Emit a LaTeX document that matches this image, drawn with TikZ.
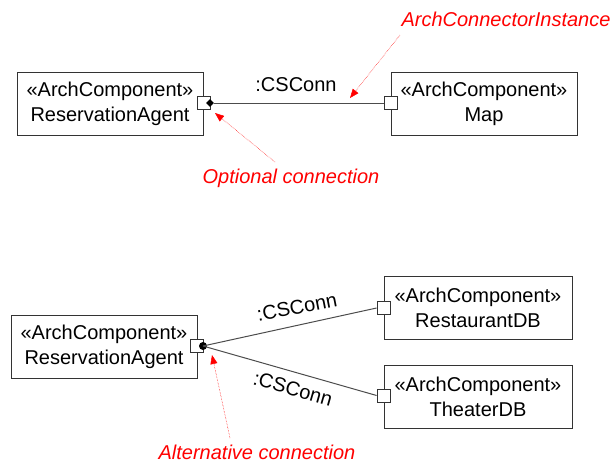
\documentclass[tikz,border=0pt]{standalone}
\usepackage{fontspec}
\setmainfont{Liberation Sans}
\usetikzlibrary{arrows.meta,shapes.geometric}

\begin{document}
\begin{tikzpicture}[x=1pt,y=-1pt,
  comp/.style={draw=black!80, line width=0.8pt, minimum width=186pt, minimum height=63pt,
    align=center, inner sep=0pt, font=\fontsize{20}{25}\selectfont},
  port/.style={draw=black!80, fill=white, line width=0.8pt, minimum size=13pt, inner sep=0pt},
  conn/.style={draw=black!70, line width=1pt},
  lbl/.style={font=\fontsize{20}{24}\selectfont, inner sep=0pt},
  note/.style={text=red, font=\fontsize{20}{24}\selectfont\itshape, inner sep=0pt},
  pointer/.style={draw=red, line width=0.5pt, densely dotted, -{Triangle[length=9pt,width=7pt]}},
]
\useasboundingbox (0,0) rectangle (616,472);

% --- optional connection ---
\node[comp] (ra1) at (110,104) {«ArchComponent»\\ReservationAgent};
\node[comp] (map) at (484,104) {«ArchComponent»\\Map};
\node[port] (p1) at (203.5,103) {};
\node[port] (p2) at (390.5,103) {};
\node[diamond, fill=black, minimum size=8pt, inner sep=0pt] (d1) at (210,103) {};
\draw[conn] (d1.east) -- (p2.west);
\node[lbl] (c1) at (296,85) {:CSConn};

\node[note] (n1) at (506,19) {ArchConnectorInstance};
\coordinate (n1s) at (400,35);
\coordinate (n1t) at (350,98);
\draw[pointer] (n1s) -- (n1t);

\node[note] (n2) at (291,178) {Optional connection};
\coordinate (n2s) at (275,162);
\coordinate (n2t) at (215,113);
\draw[pointer] (n2s) -- (n2t);

% --- alternative connection ---
\node[comp] (ra2) at (104,347) {«ArchComponent»\\ReservationAgent};
\node[comp, minimum width=188pt] (rdb) at (478,308) {«ArchComponent»\\RestaurantDB};
\node[comp, minimum width=188pt] (tdb) at (478,396.5) {«ArchComponent»\\TheaterDB};
\node[port] (p3) at (197,346) {};
\node[port] (p4) at (383.5,308) {};
\node[port] (p5) at (383.5,395.5) {};
\node[circle, fill=black, minimum size=8pt, inner sep=0pt] (d2) at (203,346) {};
\draw[conn] (d2.center) -- (p4.west);
\draw[conn] (d2.center) -- (p5.west);
\node[lbl, rotate=11] (c2) at (297,307) {:CSConn};
\node[lbl, rotate=-16] (c3) at (293,389) {:CSConn};

\node[note] (n3) at (257,452) {Alternative connection};
\coordinate (n3s) at (230,438);
\coordinate (n3t) at (212,355);
\draw[pointer] (n3s) -- (n3t);
\end{tikzpicture}
\end{document}
